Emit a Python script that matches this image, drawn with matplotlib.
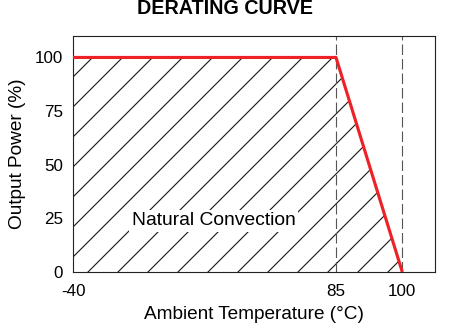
import matplotlib
matplotlib.use("Agg")
import matplotlib.pyplot as plt
import numpy as np

# Data
temps = [-40, 85, 100]
power = [100, 100, 0]
xticks = [-40, 85, 100]
yticks = [0, 25, 50, 75, 100]
dashed_x = [85, 100]
title = "DERATING CURVE"
xlabel = "Ambient Temperature (°C)"
ylabel = "Output Power (%)"
region_label = "Natural Convection"

plt.rcParams['font.family'] = ['Liberation Sans', 'DejaVu Sans']
plt.rcParams['hatch.linewidth'] = 0.45
plt.rcParams['hatch.color'] = '#1a1a1a'
plt.rcParams['lines.scale_dashes'] = False

DPI = 180
fig = plt.figure(figsize=(450 / DPI, 327 / DPI), dpi=DPI)
ax = fig.add_axes([73 / 450, 1 - 272 / 327, (435 - 73) / 450, (272 - 36) / 327])

# piecewise-linear x scale (the original axis is not uniform)
bx = [-40, 85, 120]
by = [0, 263, 263 + 35 * 66.3 / 15]
fwd = lambda x: np.interp(x, bx, by)
inv = lambda y: np.interp(y, by, bx)
ax.set_xscale('function', functions=(fwd, inv))
ax.set_xlim(-40, 107.4)
ax.set_ylim(0, 110)

# hatched region under the curve
ax.fill_between(temps, power, 0, facecolor='none', edgecolor='#1a1a1a',
                hatch='//', linewidth=0)

# dashed reference lines
for xv in dashed_x:
    ax.axvline(xv, color='#555555', lw=0.45, linestyle=(0, (4.2, 1.6)))

# derating curve
ax.plot(temps, power, color='#ee2226', lw=1.25, solid_capstyle='butt', zorder=3)

ax.text(26.9, 23.9, region_label, ha='center', va='center', fontsize=7.7,
        bbox=dict(facecolor='white', edgecolor='none', pad=1.0), zorder=4)

ax.set_xticks(xticks)
ax.set_xticklabels([str(t) for t in xticks])
ax.set_yticks(yticks)
ax.tick_params(length=0, labelsize=6.8)
ax.tick_params(axis='x', pad=4.6)
ax.tick_params(axis='y', pad=4.0)
for s in ax.spines.values():
    s.set_linewidth(0.45)
    s.set_color('#222222')

ax.set_xlabel(xlabel, fontsize=7.6, labelpad=3)
ax.set_ylabel(ylabel, fontsize=7.6, labelpad=3.5)
fig.text(0.5, 1 - 8.5 / 327, title, ha='center', va='center',
         fontsize=7.9, fontweight='bold')

fig.savefig('out.png', dpi=DPI)
